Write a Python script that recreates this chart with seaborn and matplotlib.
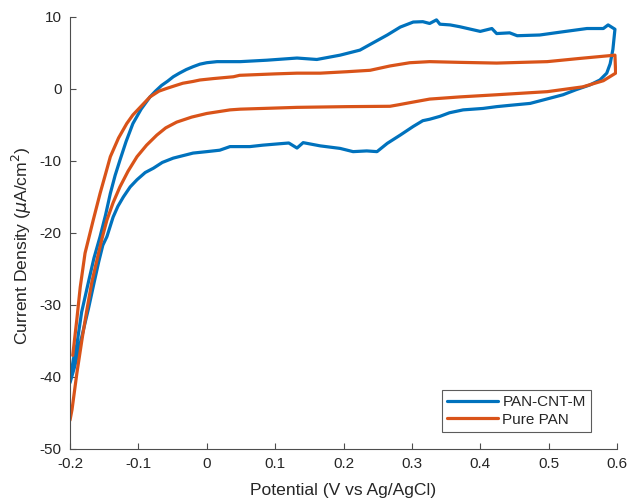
import matplotlib
matplotlib.use("Agg")
import matplotlib.pyplot as plt
import seaborn as sns
import pandas as pd

# ---- data ----
cnt_x = [-0.200, -0.195, -0.190, -0.183, -0.173, -0.165, -0.156, -0.148, -0.141, -0.134,
         -0.127, -0.118, -0.108, -0.096, -0.083, -0.075, -0.066, -0.057, -0.049, -0.040,
         -0.030, -0.020, -0.010, 0.000, 0.015,
         0.049, 0.088, 0.132, 0.161, 0.195, 0.224, 0.243, 0.264, 0.283, 0.302,
         0.316, 0.326, 0.336, 0.341, 0.356, 0.370, 0.400, 0.417, 0.424, 0.443,
         0.454, 0.487, 0.521, 0.556, 0.580, 0.587, 0.597,
         0.594, 0.590, 0.585, 0.575,
         0.560, 0.540, 0.521, 0.497, 0.473, 0.440, 0.424, 0.404, 0.375, 0.355,
         0.341, 0.326, 0.316, 0.302, 0.283, 0.264, 0.249, 0.234, 0.214, 0.195,
         0.166, 0.141, 0.132, 0.120, 0.107, 0.082, 0.063, 0.034, 0.019, 0.000,
         -0.020, -0.049, -0.065, -0.078, -0.090, -0.102, -0.112, -0.122, -0.130, -0.137,
         -0.146, -0.152, -0.158, -0.165, -0.173, -0.183, -0.193, -0.200]
cnt_y = [-40.5, -37.5, -35.5, -31.0, -26.8, -23.5, -20.5, -17.5, -14.5, -12.0,
         -9.9, -7.3, -4.8, -2.8, -1.1, -0.3, 0.5, 1.1, 1.7, 2.2,
         2.7, 3.1, 3.45, 3.65, 3.8,
         3.8, 4.0, 4.3, 4.1, 4.7, 5.4, 6.4, 7.5, 8.6, 9.3,
         9.35, 9.1, 9.6, 9.0, 8.9, 8.65, 8.0, 8.4, 7.7, 7.8,
         7.4, 7.5, 7.95, 8.4, 8.4, 8.9, 8.3,
         5.5, 3.5, 2.2, 1.25,
         0.55, -0.1, -0.8, -1.4, -2.0, -2.3, -2.45, -2.7, -2.9, -3.3,
         -3.8, -4.2, -4.4, -5.2, -6.4, -7.55, -8.7, -8.6, -8.7, -8.25,
         -7.9, -7.45, -8.2, -7.5, -7.6, -7.8, -8.0, -8.0, -8.5, -8.7,
         -8.9, -9.6, -10.2, -11.0, -11.6, -12.6, -13.6, -15.0, -16.3, -17.8,
         -20.5, -21.7, -24.0, -27.0, -30.5, -34.5, -38.5, -40.8]

pan_x = [-0.196, -0.190, -0.185, -0.178, -0.166, -0.156, -0.148, -0.141, -0.129, -0.117,
         -0.108, -0.100, -0.092, -0.083, -0.070, -0.058, -0.045, -0.035, -0.020, -0.010,
         0.010, 0.039, 0.048, 0.100, 0.132, 0.166, 0.205,
         0.239, 0.268, 0.297, 0.326, 0.370, 0.424, 0.498, 0.546, 0.597,
         0.598, 0.580,
         0.550, 0.498, 0.424, 0.370, 0.326, 0.297, 0.280, 0.268, 0.205, 0.132, 0.049,
         0.034, 0.000, -0.022, -0.044, -0.060, -0.073, -0.088, -0.102, -0.115, -0.127,
         -0.137, -0.146, -0.153, -0.160, -0.168,
         -0.175, -0.182, -0.190, -0.197, -0.200]
pan_y = [-37.0, -32.0, -27.5, -22.8, -18.2, -14.5, -11.8, -9.4, -6.8, -4.8,
         -3.6, -2.8, -2.0, -1.1, -0.3, 0.1, 0.5, 0.8, 1.05, 1.25,
         1.45, 1.7, 1.9, 2.1, 2.2, 2.2, 2.4,
         2.6, 3.2, 3.65, 3.8, 3.7, 3.6, 3.8, 4.25, 4.7,
         2.2, 1.15,
         0.3, -0.37, -0.8, -1.1, -1.4, -1.9, -2.2, -2.4, -2.45, -2.55, -2.8,
         -2.9, -3.4, -3.9, -4.6, -5.4, -6.4, -7.8, -9.4, -11.4, -13.6,
         -15.8, -18.2, -20.7, -23.5, -26.8,
         -30.5, -34.5, -39.5, -44.5, -46.0]

series_names = ["PAN-CNT-M", "Pure PAN"]
x_ticks = [-0.2, -0.1, 0.0, 0.1, 0.2, 0.3, 0.4, 0.5, 0.6]
x_tick_labels = ["-0.2", "-0.1", "0", "0.1", "0.2", "0.3", "0.4", "0.5", "0.6"]
y_ticks = [-50, -40, -30, -20, -10, 0, 10]
y_tick_labels = ["-50", "-40", "-30", "-20", "-10", "0", "10"]

series_data = {
    series_names[0]: pd.DataFrame({"x": cnt_x, "y": cnt_y}),
    series_names[1]: pd.DataFrame({"x": pan_x, "y": pan_y}),
}

# ---- style ----
sns.set_style("ticks")
plt.rcParams["font.family"] = ["Liberation Sans", "DejaVu Sans"]
plt.rcParams["axes.unicode_minus"] = False
plt.rcParams["mathtext.fontset"] = "dejavusans"

fig = plt.figure(figsize=(6.3, 4.99), dpi=100)
ax = fig.add_axes([70 / 630, 1 - 449 / 499, 547 / 630, 432 / 499])

palette = {"PAN-CNT-M": "#0072BD", "Pure PAN": "#D95319"}
for name in series_names:
    sub = series_data[name]
    sns.lineplot(data=sub, x="x", y="y", sort=False, estimator=None, color=palette[name],
                 linewidth=2.3, ax=ax, label=name)

ax.set_xlim(-0.2, 0.6)
ax.set_ylim(-50, 10)
ax.set_xticks(x_ticks)
ax.set_xticklabels(x_tick_labels)
ax.set_yticks(y_ticks)
ax.set_yticklabels(y_tick_labels)

axis_col = "#262626"
for side in ["top", "right"]:
    ax.spines[side].set_visible(False)
for side in ["left", "bottom"]:
    ax.spines[side].set_color("#4d4d4d")
    ax.spines[side].set_linewidth(0.8)
ax.tick_params(direction="in", length=4.5, width=0.8, color="#4d4d4d",
               labelsize=11, labelcolor=axis_col, pad=6)

ax.set_xlabel("Potential (V vs Ag/AgCl)", fontsize=12.6, color=axis_col)
ax.set_ylabel(r"Current Density ($\mu$A/cm$^2$)", fontsize=12.6, color=axis_col)
ax.xaxis.set_label_coords(0.5, -0.079)
ax.yaxis.set_label_coords(-0.066, 0.47)

leg = ax.legend(loc="lower right", bbox_to_anchor=(0.9525, 0.039), borderaxespad=0,
                fontsize=11, frameon=True, fancybox=False, handlelength=3.3,
                handletextpad=0.3, borderpad=0.35, labelspacing=0.25)
leg.get_frame().set_edgecolor("#333333")
leg.get_frame().set_linewidth(0.8)
for t in leg.get_texts():
    t.set_color(axis_col)

fig.savefig("out.png", dpi=100)
